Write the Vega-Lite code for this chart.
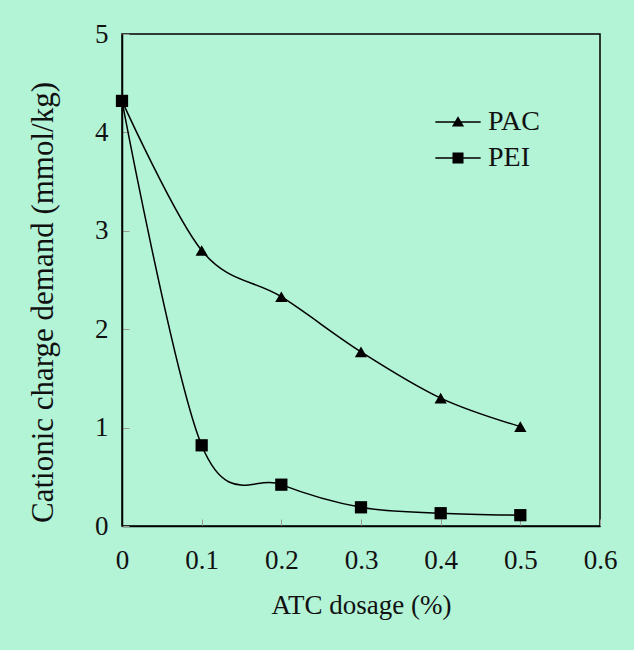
{
  "$schema": "https://vega.github.io/schema/vega-lite/v6.json",
  "autosize": "none",
  "width": 478,
  "height": 492,
  "padding": {"left": 122, "top": 34, "right": 34, "bottom": 124},
  "background": "#b3f3d6",
  "config": {
    "view": {"stroke": "#000000", "strokeWidth": 1.5, "fill": "#b3f3d6"},
    "font": "Liberation Serif",
    "axis": {
      "grid": false,
      "domainColor": "#000000",
      "domainWidth": 1.5,
      "tickColor": "#999999",
      "tickSize": -7,
      "labelFont": "Liberation Serif",
      "titleFont": "Liberation Serif",
      "labelFontSize": 27,
      "titleFontSize": 28,
      "titleFontWeight": "normal",
      "labelColor": "#111111",
      "titleColor": "#111111"
    }
  },
  "data": {
    "values": [
      {"dosage": 0, "demand": 4.32, "series": "PAC"},
      {"dosage": 0.1, "demand": 2.8, "series": "PAC"},
      {"dosage": 0.2, "demand": 2.33, "series": "PAC"},
      {"dosage": 0.3, "demand": 1.77, "series": "PAC"},
      {"dosage": 0.4, "demand": 1.3, "series": "PAC"},
      {"dosage": 0.5, "demand": 1.01, "series": "PAC"},
      {"dosage": 0, "demand": 4.32, "series": "PEI"},
      {"dosage": 0.1, "demand": 0.82, "series": "PEI"},
      {"dosage": 0.2, "demand": 0.42, "series": "PEI"},
      {"dosage": 0.3, "demand": 0.19, "series": "PEI"},
      {"dosage": 0.4, "demand": 0.13, "series": "PEI"},
      {"dosage": 0.5, "demand": 0.11, "series": "PEI"}
    ]
  },
  "encoding": {
    "x": {
      "field": "dosage", "type": "quantitative",
      "scale": {"domain": [0, 0.6], "nice": false},
      "axis": {"values": [0, 0.1, 0.2, 0.3, 0.4, 0.5, 0.6], "format": "~g", "title": "ATC dosage (%)", "titleFontSize": 27, "labelPadding": 28, "titlePadding": 19, "labelFlush": false}
    },
    "y": {
      "field": "demand", "type": "quantitative",
      "scale": {"domain": [0, 5], "nice": false},
      "axis": {"values": [0, 1, 2, 3, 4, 5], "title": "Cationic charge demand (mmol/kg)", "titleFontSize": 31, "titleY": 268, "labelPadding": 21, "titlePadding": 35, "labelFlush": false}
    }
  },
  "layer": [
    {
      "mark": {"type": "line", "interpolate": "cardinal", "color": "#000000", "strokeWidth": 1.5},
      "encoding": {"detail": {"field": "series"}}
    },
    {
      "mark": {"type": "point", "filled": true, "opacity": 1, "color": "#000000", "size": 150},
      "encoding": {
        "shape": {
          "field": "series", "type": "nominal",
          "scale": {"domain": ["PAC", "PEI"], "range": ["triangle-up", "square"]},
          "legend": null
        }
      }
    },
    {
      "mark": {"type": "point", "filled": true, "opacity": 0, "color": "#000000", "size": 150},
      "encoding": {
        "shape": {
          "field": "series", "type": "nominal",
          "scale": {"domain": ["PAC", "PEI"], "range": ["M-3.7,-0.11H3.7V0.11H-3.7ZM0,-0.95L1,0.75H-1Z", "M-3.7,-0.11H3.7V0.11H-3.7ZM-0.9,-0.9H0.9V0.9H-0.9Z"]},
          "legend": {
            "title": null,
            "orient": "none",
            "legendX": 322,
            "legendY": 74,
            "labelFont": "Liberation Serif",
            "labelFontSize": 28,
            "labelColor": "#111111",
            "labelOffset": 16,
            "rowPadding": 8,
            "symbolSize": 150,
            "symbolOpacity": 1,
            "symbolFillColor": "#000000",
            "symbolStrokeColor": "#000000",
            "symbolStrokeWidth": 1.5
          }
        }
      }
    }
  ],
  "resolve": {"scale": {"shape": "independent"}}
}
